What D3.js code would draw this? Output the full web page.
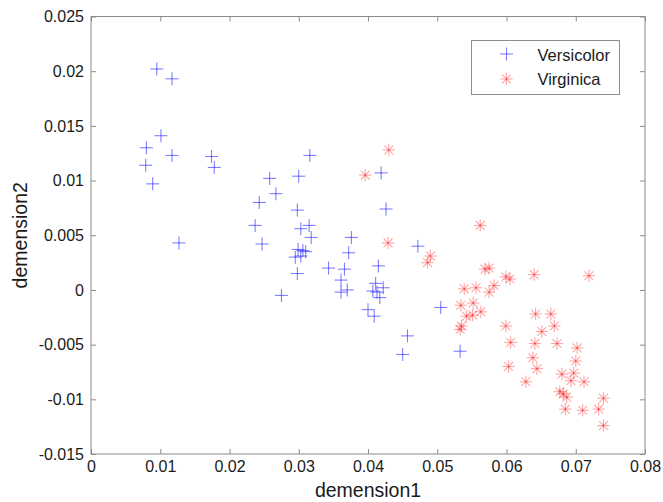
<!DOCTYPE html>
<html>
<head>
<meta charset="utf-8">
<script src="https://cdn.jsdelivr.net/npm/d3@7"></script>
<style>
  body { margin: 0; background: #fff; }
  text { font-family: "Liberation Sans", Arial, sans-serif; }
</style>
</head>
<body>
<div id="viz-container"></div>
<script>
const width = 663, height = 502;

// Projection des deux espèces sur les deux premières dimensions
const versicolorX = [0.0095, 0.0117, 0.0101, 0.0080, 0.0117, 0.0079, 0.0089, 0.0174, 0.0178, 0.0127,
  0.0258, 0.0300, 0.0267, 0.0243, 0.0298, 0.0237, 0.0247, 0.0316, 0.0303, 0.0315,
  0.0318, 0.0299, 0.0306, 0.0310, 0.0295, 0.0303, 0.0298, 0.0275, 0.0419, 0.0426,
  0.0376, 0.0372, 0.0343, 0.0366, 0.0361, 0.0361, 0.0370, 0.0415, 0.0411, 0.0422,
  0.0407, 0.0413, 0.0417, 0.0400, 0.0409, 0.0472, 0.0505, 0.0457, 0.0450, 0.0533];
const versicolorY = [0.0202, 0.0193, 0.0141, 0.0130, 0.0123, 0.0114, 0.0097, 0.0122, 0.0112, 0.0043,
  0.0102, 0.0104, 0.0088, 0.0080, 0.0073, 0.0059, 0.0042, 0.0123, 0.0056, 0.0059,
  0.0048, 0.0037, 0.0036, 0.0035, 0.0030, 0.0031, 0.0015, -0.0005, 0.0107, 0.0074,
  0.0048, 0.0034, 0.0020, 0.0019, 0.0009, -0.0002, 0.0000, 0.0022, 0.0006, 0.0002,
  -0.0001, -0.0002, -0.0007, -0.0018, -0.0024, 0.0040, -0.0016, -0.0042, -0.0059, -0.0056];

const virginicaX = [0.0430, 0.0396, 0.0429, 0.0490, 0.0486,
  0.0562, 0.0569, 0.0575, 0.0599, 0.0605, 0.0640, 0.0539, 0.0556, 0.0582, 0.0575,
  0.0534, 0.0552, 0.0563, 0.0551, 0.0542, 0.0535, 0.0533, 0.0599, 0.0642, 0.0664,
  0.0669, 0.0651, 0.0606, 0.0641, 0.0673, 0.0638, 0.0644, 0.0603,
  0.0628, 0.0680, 0.0697, 0.0693, 0.0712, 0.0702, 0.0700, 0.0677, 0.0682, 0.0687,
  0.0685, 0.0710, 0.0733, 0.0740, 0.0740, 0.0719];
const virginicaY = [0.0128, 0.0105, 0.0043, 0.0031, 0.0025,
  0.0059, 0.0019, 0.0020, 0.0012, 0.0010, 0.0014, 0.0001, 0.0002, 0.0004, -0.0002,
  -0.0014, -0.0012, -0.0020, -0.0023, -0.0024, -0.0033, -0.0036, -0.0033, -0.0022, -0.0022,
  -0.0033, -0.0038, -0.0048, -0.0049, -0.0049, -0.0062, -0.0072, -0.0070,
  -0.0084, -0.0077, -0.0076, -0.0083, -0.0084, -0.0053, -0.0065, -0.0093, -0.0095, -0.0098,
  -0.0109, -0.0110, -0.0109, -0.0099, -0.0124, 0.0013];

const xTicks = [0, 0.01, 0.02, 0.03, 0.04, 0.05, 0.06, 0.07, 0.08];
const yTicks = [-0.015, -0.01, -0.005, 0, 0.005, 0.01, 0.015, 0.02, 0.025];

const plot = { left: 91, right: 645, top: 16.5, bottom: 454 };

const svg = d3.select("#viz-container")
  .append("svg")
  .attr("width", width)
  .attr("height", height);

const x = d3.scaleLinear().domain([0, 0.08]).range([plot.left, plot.right]);
const y = d3.scaleLinear().domain([-0.015, 0.025]).range([plot.bottom, plot.top]);

// Cadre
svg.append("rect")
  .attr("x", plot.left).attr("y", plot.top)
  .attr("width", plot.right - plot.left).attr("height", plot.bottom - plot.top)
  .attr("fill", "none")
  .attr("stroke", "#8c8c8c")
  .attr("stroke-width", 1);

// Axes avec graduations vers l'intérieur
const fmt = d => d === 0 ? "0" : String(+d.toFixed(3));
const styleAxis = g => {
  g.select(".domain").remove();
  g.selectAll(".tick line").attr("stroke", "#8c8c8c");
  g.selectAll(".tick text").attr("fill", "#1a1a1a").style("font-size", "16px");
};

svg.append("g")
  .attr("transform", `translate(0,${plot.bottom})`)
  .call(d3.axisBottom(x).tickValues(xTicks).tickSize(-5).tickPadding(7).tickFormat(fmt))
  .call(styleAxis);
svg.append("g")
  .attr("transform", `translate(0,${plot.top})`)
  .call(d3.axisTop(x).tickValues(xTicks).tickSize(-5).tickFormat(""))
  .call(styleAxis);
svg.append("g")
  .attr("transform", `translate(${plot.left},0)`)
  .call(d3.axisLeft(y).tickValues(yTicks).tickSize(-5).tickPadding(7).tickFormat(fmt))
  .call(styleAxis);
svg.append("g")
  .attr("transform", `translate(${plot.right},0)`)
  .call(d3.axisRight(y).tickValues(yTicks).tickSize(-5).tickFormat(""))
  .call(styleAxis);

// Labels
svg.append("text")
  .attr("x", (plot.left + plot.right) / 2)
  .attr("y", 497)
  .attr("text-anchor", "middle")
  .style("font-size", "19.5px")
  .attr("fill", "#1a1a1a")
  .text("demension1");
svg.append("text")
  .attr("x", -(plot.top + plot.bottom) / 2)
  .attr("y", 26.5)
  .attr("transform", "rotate(-90)")
  .attr("text-anchor", "middle")
  .style("font-size", "19.5px")
  .attr("fill", "#1a1a1a")
  .text("demension2");

// Marqueurs : chaque trait est tracé séparément pour que le centre ressorte
const plusSegs = [[-6.5, 0, 6.5, 0], [0, -6.5, 0, 6.5]];
const starSegs = [[-6.2, 0, 6.2, 0], [0, -6.2, 0, 6.2], [-4.4, -4.4, 4.4, 4.4], [-4.4, 4.4, 4.4, -4.4]];

const drawMarker = (g, segs, color, op) => {
  g.selectAll("line")
    .data(segs)
    .join("line")
    .attr("x1", s => s[0]).attr("y1", s => s[1])
    .attr("x2", s => s[2]).attr("y2", s => s[3])
    .attr("stroke", color)
    .attr("stroke-opacity", op)
    .attr("stroke-width", 1.1);
};

const versicolor = versicolorX.map((v, i) => ({ x: v, y: versicolorY[i] }));
const virginica = virginicaX.map((v, i) => ({ x: v, y: virginicaY[i] }));

svg.append("g")
  .selectAll("g")
  .data(versicolor)
  .join("g")
  .attr("transform", d => `translate(${x(d.x)},${y(d.y)})`)
  .each(function() { drawMarker(d3.select(this), plusSegs, "#0000ff", 0.5); });

svg.append("g")
  .selectAll("g")
  .data(virginica)
  .join("g")
  .attr("transform", d => `translate(${x(d.x)},${y(d.y)})`)
  .each(function() { drawMarker(d3.select(this), starSegs, "#ff0000", 0.35); });

// Légende
const legend = svg.append("g");
legend.append("rect")
  .attr("x", 471.5).attr("y", 40.5)
  .attr("width", 148).attr("height", 54)
  .attr("fill", "#fff")
  .attr("stroke", "#8c8c8c");

const legendItems = [
  { name: "Versicolor", segs: plusSegs, color: "#0000ff", op: 0.5, cy: 54, ty: 61 },
  { name: "Virginica", segs: starSegs, color: "#ff0000", op: 0.35, cy: 79, ty: 84.5 }
];
legendItems.forEach(item => {
  const m = legend.append("g").attr("transform", `translate(506.5,${item.cy})`);
  drawMarker(m, item.segs, item.color, item.op);
  legend.append("text")
    .attr("x", 537.5)
    .attr("y", item.ty)
    .style("font-size", "16.5px")
    .attr("fill", "#1a1a1a")
    .text(item.name);
});
</script>
</body>
</html>
